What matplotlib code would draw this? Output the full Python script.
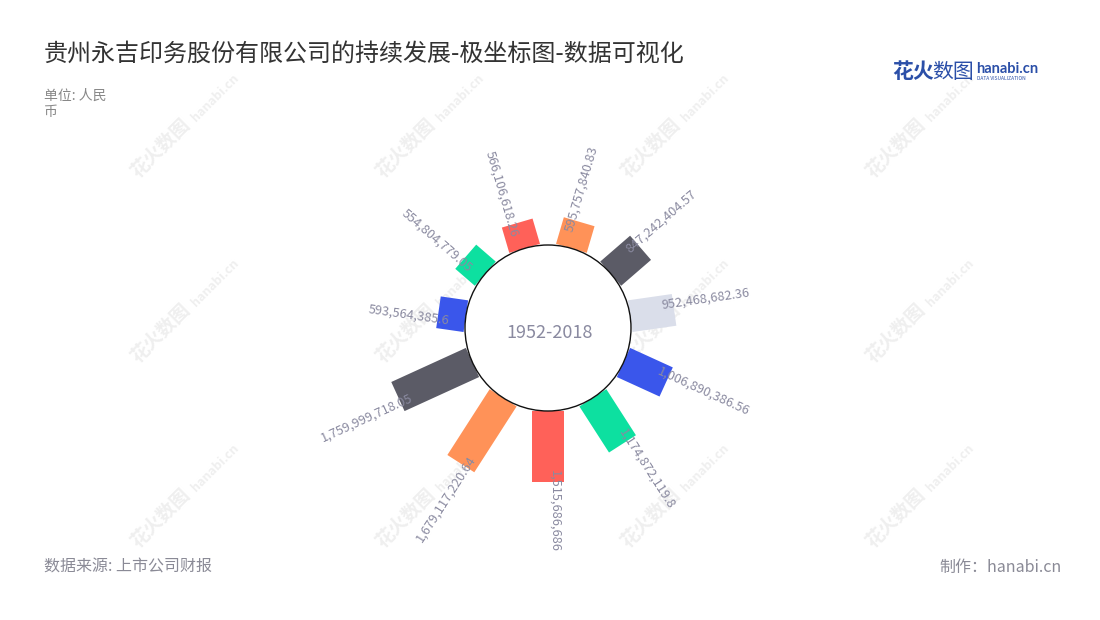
import numpy as np
import matplotlib
matplotlib.use("Agg")
import matplotlib.pyplot as plt
from matplotlib.patches import Polygon, Circle

plt.rcParams['font.family'] = ['Noto Sans CJK SC', 'DejaVu Sans']

# 数据（按时间顺序）
values = [593564385.6, 554804779.05, 566106618.26, 595757840.83, 847242404.57,
          952468682.36, 1006890386.56, 1174872119.8, 1515686686, 1679117220.64,
          1759999718.05]
labels = ["593,564,385.6", "554,804,779.05", "566,106,618.26", "595,757,840.83",
          "847,242,404.57", "952,468,682.36", "1,006,890,386.56", "1,174,872,119.8",
          "1,515,686,686", "1,679,117,220.64", "1,759,999,718.05"]
palette = ["#3a56eb", "#0de0a0", "#ff6159", "#ff9258", "#5b5b66", "#dadeea"]

title = "贵州永吉印务股份有限公司的持续发展-极坐标图-数据可视化"
unit_text = "单位: 人民\n币"
center_text = "1952-2018"
source_text = "数据来源: 上市公司财报"
credit_text = "制作：hanabi.cn"

# 布局（像素坐标）
W, H = 1100, 620
cx, cy = 548, 328
r0 = 83.0          # 内圆半径
r_len = 82.0       # 最大柱长
half_w = 16.0
start_slot = 8.5
label_col = "#8a8aa0"

fig = plt.figure(figsize=(11, 6.2), dpi=100)
ax = fig.add_axes([0, 0, 1, 1])
ax.set_xlim(0, W)
ax.set_ylim(H, 0)
ax.axis("off")

# 水印
for wx in [161, 406, 651, 896]:
    for wy in [148, 333, 518]:
        ax.text(wx, wy, "花火数图", rotation=45, ha="center", va="center",
                fontsize=13.5, color="#efefef", fontweight="bold", zorder=0)
        ax.text(wx + 54, wy - 50, "hanabi.cn", rotation=45, ha="center", va="center",
                fontsize=9, color="#efefef", fontweight="bold", zorder=0)

n = len(values)
vmax = max(values)
step = 360.0 / n
for i, (v, lab) in enumerate(zip(values, labels)):
    th = ((i + start_slot) * step) % 360
    t = np.deg2rad(th)
    d = np.array([np.sin(t), -np.cos(t)])
    p = np.array([np.cos(t), np.sin(t)])
    r1 = r0 + v / vmax * r_len
    c = np.array([cx, cy])
    pts = [c + r0 * d + half_w * p, c + r1 * d + half_w * p,
           c + r1 * d - half_w * p, c + r0 * d - half_w * p]
    ax.add_patch(Polygon(pts, closed=True, facecolor=palette[i % len(palette)],
                         edgecolor="none", zorder=2))
    a = c + (r1 - 12) * d
    if th <= 180 + 1e-6:
        ax.text(a[0], a[1], lab, rotation=90 - th, rotation_mode="anchor",
                ha="left", va="bottom", fontsize=9.2, color=label_col, zorder=4)
    else:
        ax.text(a[0], a[1], lab, rotation=270 - th, rotation_mode="anchor",
                ha="right", va="top", fontsize=9.2, color=label_col, zorder=4)

ax.add_patch(Circle((cx, cy), r0, facecolor="white", edgecolor="#111111",
                    linewidth=1.0, zorder=3))
ax.text(cx + 2, cy + 5, center_text, ha="center", va="center", fontsize=13,
        color=label_col, fontweight="light", zorder=5)

# 标题和注释
ax.text(44, 54, title, ha="left", va="center", fontsize=17.3, color="#333333")
ax.text(44, 104, unit_text, ha="left", va="center", fontsize=10, color="#888888",
        linespacing=1.25)
ax.text(44, 567, source_text, ha="left", va="center", fontsize=11.5, color="#8a8a96")
ax.text(1062, 567, credit_text, ha="right", va="center", fontsize=11.5, color="#8a8a96")

# logo
ax.text(892, 72, "花火", ha="left", va="center", fontsize=15, color="#2b4fa8",
        fontweight="bold")
ax.text(932, 72, "数图", ha="left", va="center", fontsize=15, color="#2b4fa8")
ax.text(976, 69, "hanabi.cn", ha="left", va="center", fontsize=10.5, color="#2b4fa8",
        fontweight="bold", family=["Lato", "DejaVu Sans"])
ax.text(977, 79, "DATA VISUALIZATION", ha="left", va="center", fontsize=3.5,
        color="#2b4fa8")

fig.savefig("out.png", dpi=100, facecolor="white")
